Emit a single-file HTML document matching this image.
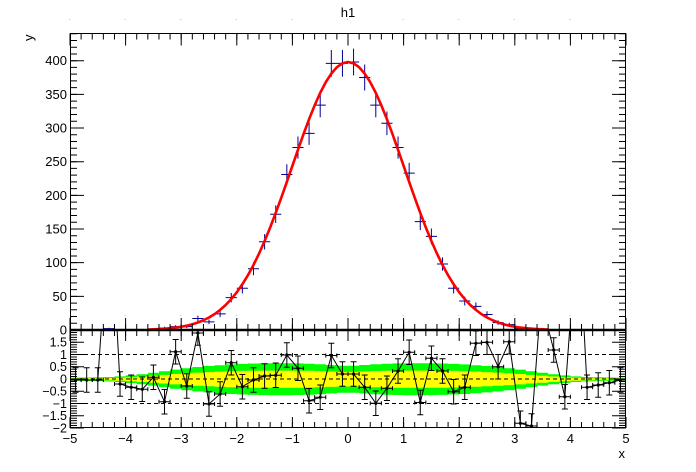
<!DOCTYPE html>
<html><head><meta charset="utf-8"><style>
html,body{margin:0;padding:0;background:#fff}
svg{display:block}
text{font-family:"Liberation Sans",Arial,sans-serif;fill:#000}
</style></head><body>
<svg width="696" height="472" viewBox="0 0 696 472" xmlns="http://www.w3.org/2000/svg" xmlns:xlink="http://www.w3.org/1999/xlink">
<defs>
<clipPath id="cu"><rect x="70" y="34" width="556" height="296"/></clipPath>
<clipPath id="cl"><rect x="70" y="330" width="556" height="98"/></clipPath>
<g id="eb"><path d="M0 -12.25V12.25M-3 -12.25h6M-3 12.25h6M-5.56 0h11.12M-5.56 -2v4M5.56 -2v4" stroke="#000" stroke-width="1" fill="none"/><circle cx="0" cy="0" r="1.6" fill="#000"/></g>
</defs>
<rect width="696" height="472" fill="#fff"/>

<!-- grey dots -->
<g fill="#bbb">
<rect x="69" y="19" width="1" height="1"/><rect x="124.6" y="19" width="1" height="1"/><rect x="180.2" y="19" width="1" height="1"/><rect x="235.8" y="19" width="1" height="1"/><rect x="291.4" y="19" width="1" height="1"/><rect x="347" y="19" width="1" height="1"/><rect x="402.6" y="19" width="1" height="1"/><rect x="458.2" y="19" width="1" height="1"/><rect x="513.8" y="19" width="1" height="1"/><rect x="569.4" y="19" width="1" height="1"/>
<rect x="124.6" y="315" width="1" height="1"/><rect x="180.2" y="315" width="1" height="1"/><rect x="235.8" y="315" width="1" height="1"/><rect x="291.4" y="315" width="1" height="1"/><rect x="347" y="315" width="1" height="1"/><rect x="402.6" y="315" width="1" height="1"/><rect x="458.2" y="315" width="1" height="1"/><rect x="513.8" y="315" width="1" height="1"/><rect x="569.4" y="315" width="1" height="1"/>
</g>

<!-- title -->
<text x="348" y="17" font-size="13" text-anchor="middle">h1</text>

<!-- ===== Upper pad ===== -->
<g clip-path="url(#cu)">
<path fill="none" stroke="#000099" stroke-width="1" d="M103.36 328.65h11.12M108.92 327.7v1.9M158.96 327.98h11.12M164.52 326.81v2.34M170.08 326.63h11.12M175.64 325.13v3M181.2 326.63h11.12M186.76 325.13v3M192.32 318.55h11.12M197.88 315.77v5.56M203.44 321.92h11.12M209 319.59v4.66M214.56 313.84h11.12M220.12 310.54v6.6M225.68 297.68h11.12M231.24 293.02v9.32M236.8 288.25h11.12M242.36 282.95v10.6M247.92 268.73h11.12M253.48 262.31v12.84M259.04 241.8h11.12M264.6 234.09v15.42M270.16 214.19h11.12M275.72 205.36v17.66M281.28 174.47h11.12M286.84 164.24v20.46M292.4 147.54h11.12M297.96 136.46v22.16M303.52 133.4h11.12M309.08 121.9v23M314.64 105.12h11.12M320.2 92.82v24.6M325.76 63.37h11.12M331.32 49.97v26.8M336.88 63.37h11.12M342.44 49.97v26.8M348 62h11.12M353.56 48.57v26.86M359.12 77.5h11.12M364.68 64.46v26.08M370.24 105.12h11.12M375.8 92.82v24.6M381.36 123.3h11.12M386.92 111.5v23.6M392.48 147.54h11.12M398.04 136.46v22.16M403.6 173.1h11.12M409.16 162.82v20.56M414.72 221.6h11.12M420.28 213.06v17.08M425.84 236.4h11.12M431.4 228.46v15.88M436.96 264h11.12M442.52 257.33v13.34M448.08 288.25h11.12M453.64 282.95v10.6M459.2 301.05h11.12M464.76 296.64v8.82M470.32 306.43h11.12M475.88 302.45v7.96M481.44 314.51h11.12M487 311.28v6.46M492.56 322.6h11.12M498.12 320.37v4.46M503.68 324.6h11.12M509.24 322.7v3.8M514.8 328.65h11.12M520.36 327.7v1.9"/>
<polyline fill="none" stroke="#ff0000" stroke-width="2.6" stroke-linejoin="round" points="147.84,329.5 153.4,329.3 158.96,329.1 164.52,328.7 170.08,328.2 175.64,327.6 181.2,326.75 186.76,325.7 192.32,324.25 197.88,322.5 203.44,320.25 209,317.5 214.56,314.1 220.12,309.9 225.68,305 231.24,299.1 236.8,292.3 242.36,284.3 247.92,275.2 253.48,265 259.04,253.6 264.6,241 270.16,227.5 275.72,212.9 281.28,197.7 286.84,181.9 292.4,165.8 297.96,149.8 303.52,134.1 309.08,119.2 314.64,105.4 320.2,92.9 325.76,82.2 331.32,73.6 336.88,67.2 342.44,63.3 348,62 353.56,63.3 359.12,67.2 364.68,73.6 370.24,82.2 375.8,92.9 381.36,105.4 386.92,119.2 392.48,134.1 398.04,149.8 403.6,165.8 409.16,181.9 414.72,197.7 420.28,212.9 425.84,227.5 431.4,241 436.96,253.6 442.52,265 448.08,275.2 453.64,284.3 459.2,292.3 464.76,299.1 470.32,305 475.88,309.9 481.44,314.1 487,317.5 492.56,320.25 498.12,322.5 503.68,324.25 509.24,325.7 514.8,326.75 520.36,327.6 525.92,328.2 531.48,328.7 537.04,329.1 542.6,329.3 548.16,329.5"/>
</g>

<!-- upper ticks -->
<g stroke="#000" fill="none">
<line x1="69.5" y1="36.5" x2="627" y2="36.5" stroke-width="6" stroke-dasharray="1 10.12"/>
<line x1="69.5" y1="39.5" x2="627" y2="39.5" stroke-width="12" stroke-dasharray="1 54.6"/>
<line x1="69.5" y1="327" x2="627" y2="327" stroke-width="6" stroke-dasharray="1 10.12"/>
<line x1="69.5" y1="324" x2="627" y2="324" stroke-width="12" stroke-dasharray="1 54.6"/>
<line x1="73.5" y1="330.5" x2="73.5" y2="33.5" stroke-width="7" stroke-dasharray="1 5.7325"/>
<line x1="77" y1="330.5" x2="77" y2="33.5" stroke-width="14" stroke-dasharray="1 32.6625"/>
<line x1="622.5" y1="330.5" x2="622.5" y2="33.5" stroke-width="7" stroke-dasharray="1 5.7325"/>
<line x1="619" y1="330.5" x2="619" y2="33.5" stroke-width="14" stroke-dasharray="1 32.6625"/>
</g>

<!-- upper y labels -->
<g font-size="13" text-anchor="end">
<text x="67" y="334.5">0</text>
<text x="67" y="300.8">50</text>
<text x="67" y="267.2">100</text>
<text x="67" y="233.5">150</text>
<text x="67" y="199.8">200</text>
<text x="67" y="166.2">250</text>
<text x="67" y="132.5">300</text>
<text x="67" y="98.8">350</text>
<text x="67" y="65.2">400</text>
</g>
<text transform="translate(33,34.5) rotate(-90)" font-size="13" text-anchor="end">y</text>

<!-- ===== Lower pad ===== -->
<g clip-path="url(#cl)">
<path fill="#00ff00" d="M70,377.6 H81.12 V377.5 H92.24 V377.3 H103.36 V377.0 H114.48 V376.4 H125.6 V375.4 H136.72 V374.2 H147.84 V372.8 H158.96 V371.2 H170.08 V369.6 H181.2 V368.2 H192.32 V367.0 H203.44 V366.0 H214.56 V365.2 H225.68 V364.4 H236.8 V363.9 H247.92 V363.5 H259.04 V363.3 H270.16 V363.2 H292.4 V363.4 H303.52 V363.7 H314.64 V364.2 H325.76 V365.0 H336.88 V365.7 H359.12 V365.0 H370.24 V364.2 H381.36 V363.7 H392.48 V363.4 H403.6 V363.2 H425.84 V363.3 H436.96 V363.5 H448.08 V363.9 H459.2 V364.4 H470.32 V365.2 H481.44 V366.0 H492.56 V367.0 H503.68 V368.2 H514.8 V369.6 H525.92 V371.2 H537.04 V372.8 H548.16 V374.2 H559.28 V375.4 H570.4 V376.4 H581.52 V377.0 H592.64 V377.3 H603.76 V377.5 H614.88 V377.6 H626 V380.8 H614.88 V380.9 H603.76 V381.1 H592.64 V381.4 H581.52 V382.0 H570.4 V383.0 H559.28 V384.2 H548.16 V385.6 H537.04 V387.2 H525.92 V388.8 H514.8 V390.2 H503.68 V391.4 H492.56 V392.4 H481.44 V393.2 H470.32 V394.0 H459.2 V394.5 H448.08 V394.9 H436.96 V395.1 H425.84 V395.2 H403.6 V395.0 H392.48 V394.7 H381.36 V394.2 H370.24 V393.4 H359.12 V392.7 H336.88 V393.4 H325.76 V394.2 H314.64 V394.7 H303.52 V395.0 H292.4 V395.2 H270.16 V395.1 H259.04 V394.9 H247.92 V394.5 H236.8 V394.0 H225.68 V393.2 H214.56 V392.4 H203.44 V391.4 H192.32 V390.2 H181.2 V388.8 H170.08 V387.2 H158.96 V385.6 H147.84 V384.2 H136.72 V383.0 H125.6 V382.0 H114.48 V381.4 H103.36 V381.1 H92.24 V380.9 H81.12 V380.8 H70 Z"/>
<path fill="#ffff00" d="M70,378.3 H92.24 V378.2 H103.36 V378.0 H114.48 V377.7 H125.6 V377.1 H136.72 V376.5 H147.84 V375.7 H158.96 V374.9 H170.08 V374.0 H181.2 V373.3 H192.32 V372.6 H203.44 V372.1 H214.56 V371.6 H225.68 V371.2 H236.8 V370.9 H247.92 V370.7 H259.04 V370.6 H292.4 V370.7 H303.52 V370.8 H314.64 V371.1 H325.76 V371.5 H336.88 V371.9 H359.12 V371.5 H370.24 V371.1 H381.36 V370.8 H392.48 V370.7 H403.6 V370.6 H436.96 V370.7 H448.08 V370.9 H459.2 V371.2 H470.32 V371.6 H481.44 V372.1 H492.56 V372.6 H503.68 V373.3 H514.8 V374.0 H525.92 V374.9 H537.04 V375.7 H548.16 V376.5 H559.28 V377.1 H570.4 V377.7 H581.52 V378.0 H592.64 V378.2 H603.76 V378.3 H626 V380.1 H603.76 V380.2 H592.64 V380.4 H581.52 V380.7 H570.4 V381.3 H559.28 V381.9 H548.16 V382.7 H537.04 V383.5 H525.92 V384.4 H514.8 V385.1 H503.68 V385.8 H492.56 V386.3 H481.44 V386.8 H470.32 V387.2 H459.2 V387.5 H448.08 V387.7 H436.96 V387.8 H403.6 V387.7 H392.48 V387.6 H381.36 V387.3 H370.24 V386.9 H359.12 V386.5 H336.88 V386.9 H325.76 V387.3 H314.64 V387.6 H303.52 V387.7 H292.4 V387.8 H259.04 V387.7 H247.92 V387.5 H236.8 V387.2 H225.68 V386.8 H214.56 V386.3 H203.44 V385.8 H192.32 V385.1 H181.2 V384.4 H170.08 V383.5 H158.96 V382.7 H147.84 V381.9 H136.72 V381.3 H125.6 V380.7 H114.48 V380.4 H103.36 V380.2 H92.24 V380.1 H70 Z"/>
<g stroke="#000" stroke-width="1" stroke-dasharray="4 3">
<line x1="70" y1="354.5" x2="626" y2="354.5"/>
<line x1="70" y1="379" x2="626" y2="379"/>
<line x1="70" y1="403.5" x2="626" y2="403.5"/>
</g>
<polyline fill="none" stroke="#000" stroke-width="1" points="75.56,380 86.68,380 97.8,380 110,200 120.04,384 131.16,387.3 142.28,389.3 153.4,377.3 164.52,401.7 175.64,351.7 186.76,386 197.88,333 209,404 220.12,394 231.24,362.7 242.36,386.7 253.48,380 264.6,376 275.72,375.3 286.84,355 297.96,368.3 309.08,400.7 320.2,397.3 331.32,355.5 342.44,374 353.56,374 364.68,387.3 375.8,403.3 386.92,388.3 398.04,371 409.16,352.3 420.28,402.5 431.4,358.3 442.52,371 453.64,391.7 464.76,387.3 475.88,343.3 487,342.3 498.12,366.7 509.24,341.7 520.36,423.3 531.48,426 541,300 553.72,350 564.84,396.7 578,214 587.08,387.3 598.2,385 609.32,382.7 620.44,380"/>
<use xlink:href="#eb" x="75.56" y="380"/><use xlink:href="#eb" x="86.68" y="380"/><use xlink:href="#eb" x="97.8" y="380"/><use xlink:href="#eb" x="120.04" y="384"/><use xlink:href="#eb" x="131.16" y="387.3"/><use xlink:href="#eb" x="142.28" y="389.3"/><use xlink:href="#eb" x="153.4" y="377.3"/><use xlink:href="#eb" x="164.52" y="401.7"/><use xlink:href="#eb" x="175.64" y="351.7"/><use xlink:href="#eb" x="186.76" y="386"/><use xlink:href="#eb" x="197.88" y="333"/><use xlink:href="#eb" x="209" y="404"/><use xlink:href="#eb" x="220.12" y="394"/><use xlink:href="#eb" x="231.24" y="362.7"/><use xlink:href="#eb" x="242.36" y="386.7"/><use xlink:href="#eb" x="253.48" y="380"/><use xlink:href="#eb" x="264.6" y="376"/><use xlink:href="#eb" x="275.72" y="375.3"/><use xlink:href="#eb" x="286.84" y="355"/><use xlink:href="#eb" x="297.96" y="368.3"/><use xlink:href="#eb" x="309.08" y="400.7"/><use xlink:href="#eb" x="320.2" y="397.3"/><use xlink:href="#eb" x="331.32" y="355.5"/><use xlink:href="#eb" x="342.44" y="374"/><use xlink:href="#eb" x="353.56" y="374"/><use xlink:href="#eb" x="364.68" y="387.3"/><use xlink:href="#eb" x="375.8" y="403.3"/><use xlink:href="#eb" x="386.92" y="388.3"/><use xlink:href="#eb" x="398.04" y="371"/><use xlink:href="#eb" x="409.16" y="352.3"/><use xlink:href="#eb" x="420.28" y="402.5"/><use xlink:href="#eb" x="431.4" y="358.3"/><use xlink:href="#eb" x="442.52" y="371"/><use xlink:href="#eb" x="453.64" y="391.7"/><use xlink:href="#eb" x="464.76" y="387.3"/><use xlink:href="#eb" x="475.88" y="343.3"/><use xlink:href="#eb" x="487" y="342.3"/><use xlink:href="#eb" x="498.12" y="366.7"/><use xlink:href="#eb" x="509.24" y="341.7"/><use xlink:href="#eb" x="520.36" y="423.3"/><use xlink:href="#eb" x="531.48" y="426"/><use xlink:href="#eb" x="553.72" y="350"/><use xlink:href="#eb" x="564.84" y="396.7"/><use xlink:href="#eb" x="587.08" y="387.3"/><use xlink:href="#eb" x="598.2" y="385"/><use xlink:href="#eb" x="609.32" y="382.7"/><use xlink:href="#eb" x="620.44" y="380"/>
</g>

<!-- lower ticks -->
<g stroke="#000" fill="none">
<line x1="69.5" y1="333" x2="627" y2="333" stroke-width="6" stroke-dasharray="1 10.12"/>
<line x1="69.5" y1="335.5" x2="627" y2="335.5" stroke-width="11" stroke-dasharray="1 54.6"/>
<line x1="69.5" y1="425" x2="627" y2="425" stroke-width="6" stroke-dasharray="1 10.12"/>
<line x1="69.5" y1="422.5" x2="627" y2="422.5" stroke-width="11" stroke-dasharray="1 54.6"/>
<line x1="73.5" y1="428.5" x2="73.5" y2="330" stroke-width="7" stroke-dasharray="1 1.45"/>
<line x1="77" y1="428.5" x2="77" y2="330" stroke-width="14" stroke-dasharray="1 11.25"/>
<line x1="622.5" y1="428.5" x2="622.5" y2="330" stroke-width="7" stroke-dasharray="1 1.45"/>
<line x1="619" y1="428.5" x2="619" y2="330" stroke-width="14" stroke-dasharray="1 11.25"/>
</g>

<!-- frames -->
<g fill="none" stroke="#000" stroke-width="1">
<rect x="70.5" y="33.5" width="555" height="296"/>
<rect x="70.5" y="330" width="555" height="97.5"/>
</g>
<line x1="70" y1="330" x2="626" y2="330" stroke="#000" stroke-width="2.5"/>

<!-- lower y labels -->
<g font-size="12.5" text-anchor="end">
<text x="67" y="346.7">1.5</text>
<text x="67" y="359">1</text>
<text x="67" y="371.2">0.5</text>
<text x="67" y="383.5">0</text>
<text x="67" y="395.7">−0.5</text>
<text x="67" y="408">−1</text>
<text x="67" y="420.2">−1.5</text>
<text x="67" y="432.5">−2</text>
</g>

<!-- x labels -->
<g font-size="13" text-anchor="middle">
<text x="70" y="443">−5</text>
<text x="125.6" y="443">−4</text>
<text x="181.2" y="443">−3</text>
<text x="236.8" y="443">−2</text>
<text x="292.4" y="443">−1</text>
<text x="348" y="443">0</text>
<text x="403.6" y="443">1</text>
<text x="459.2" y="443">2</text>
<text x="514.8" y="443">3</text>
<text x="570.4" y="443">4</text>
<text x="626" y="443">5</text>
</g>
<text x="625" y="458" font-size="13" text-anchor="end">x</text>
</svg>
</body></html>
